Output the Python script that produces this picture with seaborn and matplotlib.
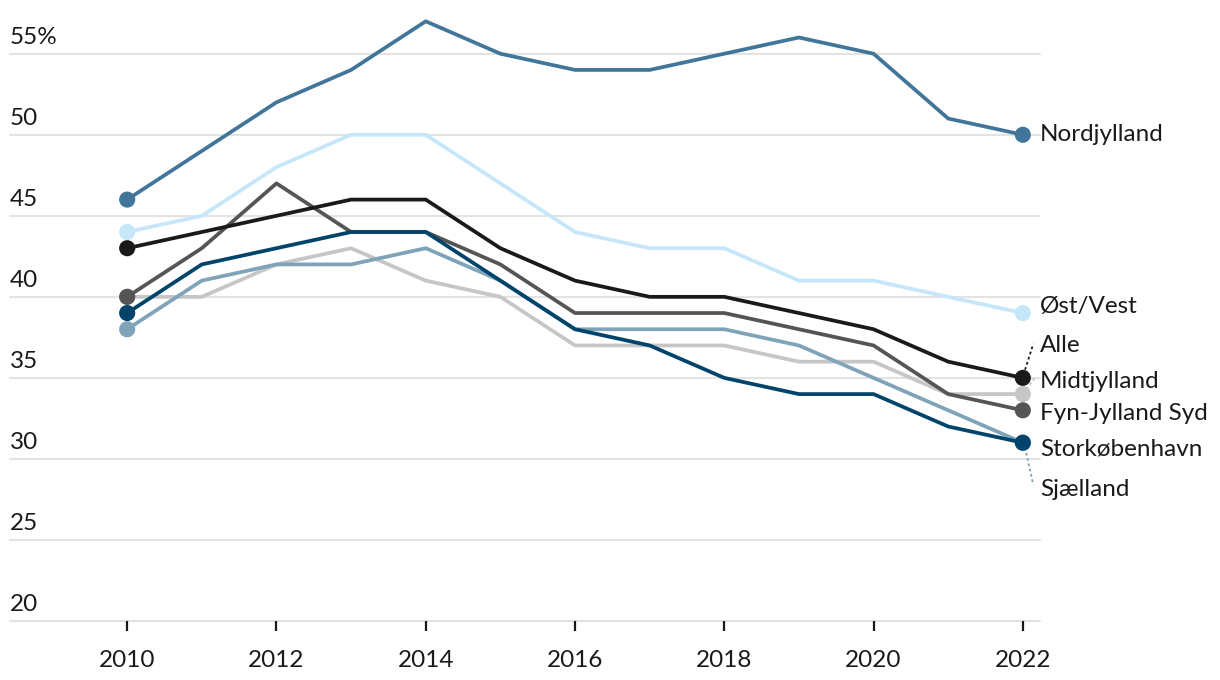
import matplotlib
matplotlib.use("Agg")
import matplotlib.pyplot as plt
import seaborn as sns
import pandas as pd

# data
years = list(range(2010, 2023))
nordjylland = [46, 49, 52, 54, 57, 55, 54, 54, 55, 56, 55, 51, 50]
oest_vest = [44, 45, 48, 50, 50, 47, 44, 43, 43, 41, 41, 40, 39]
alle = [43, 44, 45, 46, 46, 43, 41, 40, 40, 39, 38, 36, 35]
fyn_jylland_syd = [40, 43, 47, 44, 44, 42, 39, 39, 39, 38, 37, 34, 33]
midtjylland = [40, 40, 42, 43, 41, 40, 37, 37, 37, 36, 36, 34, 34]
storkobenhavn = [39, 42, 43, 44, 44, 41, 38, 37, 35, 34, 34, 32, 31]
sjaelland = [38, 41, 42, 42, 43, 41, 38, 38, 38, 37, 35, 33, 31]

y_ticks = [20, 25, 30, 35, 40, 45, 50, 55]
x_ticks = [2010, 2012, 2014, 2016, 2018, 2020, 2022]

series = {
    "Midtjylland": midtjylland,
    "Øst/Vest": oest_vest,
    "Sjælland": sjaelland,
    "Fyn-Jylland Syd": fyn_jylland_syd,
    "Storkøbenhavn": storkobenhavn,
    "Alle": alle,
    "Nordjylland": nordjylland,
}
colors = {
    "Midtjylland": "#c6c6c6",
    "Øst/Vest": "#c5e7f9",
    "Sjælland": "#7fa3b9",
    "Fyn-Jylland Syd": "#555555",
    "Storkøbenhavn": "#00446b",
    "Alle": "#1a1a1a",
    "Nordjylland": "#41769a",
}
# label y positions (data units) at the right edge, nudged apart
label_y = {
    "Nordjylland": 50.0,
    "Øst/Vest": 39.4,
    "Alle": 37.0,
    "Midtjylland": 34.8,
    "Fyn-Jylland Syd": 32.8,
    "Storkøbenhavn": 30.6,
    "Sjælland": 28.1,
}

rows = []
for name, vals in series.items():
    for yr, v in zip(years, vals):
        rows.append({"year": yr, "value": v, "region": name})
df = pd.DataFrame(rows)
ends = df[df["year"].isin([years[0], years[-1]])]

sns.set_style("white")
plt.rcParams["font.family"] = ["Lato", "DejaVu Sans"]
FS = 17.5

fig = plt.figure(figsize=(12.2, 6.8), dpi=100)
ax = fig.add_axes([10 / 1220, 59 / 680, 1030 / 1220, 607 / 680])

for y in y_ticks:
    ax.axhline(y, color="#e3e3e3", lw=1.5, zorder=0)

for i, name in enumerate(series):
    sub = df[df["region"] == name]
    sns.lineplot(data=sub, x="year", y="value", color=colors[name], lw=2.7,
                 ax=ax, zorder=2 + i, legend=False)
    sns.scatterplot(data=ends[ends["region"] == name], x="year", y="value",
                    color=colors[name], s=135, edgecolor="none", ax=ax,
                    zorder=2 + i, legend=False)

# right-side labels
x_last = years[-1]
for name, ly in label_y.items():
    ax.text(x_last + 0.23, ly, name, fontsize=FS, color="#1a1a1a",
            va="center", ha="left")

# dotted leader lines for nudged labels
ax.plot([x_last + 0.03, x_last + 0.14], [alle[-1] + 0.5, 37.1],
        color="#1a1a1a", lw=1.3, ls=(0, (1.5, 1.5)), zorder=1)
ax.plot([x_last + 0.05, x_last + 0.16], [midtjylland[-1] + 0.3, 35.0],
        color="#c6c6c6", lw=1.3, ls=(0, (1.5, 1.5)), zorder=1)
ax.plot([x_last + 0.03, x_last + 0.14], [sjaelland[-1] - 0.3, 28.4],
        color="#7fa3b9", lw=1.3, ls=(0, (1.5, 1.5)), zorder=1)

# y labels sit above the gridlines
for y in y_ticks:
    lab = f"{y}%" if y == 55 else str(y)
    ax.text(2010 - 1.57, y + 0.6, lab, fontsize=FS, color="#1a1a1a",
            ha="left", va="baseline")

ax.set_xlim(2010 - 1.57, 2022.23)
ax.set_ylim(20, 57.45)
ax.set_xticks(x_ticks)
ax.set_xticklabels([str(x) for x in x_ticks], fontsize=FS, color="#1a1a1a")
ax.set_yticks([])
ax.tick_params(axis="x", length=7, width=1.6, color="#1a1a1a", pad=14,
               bottom=True)
ax.set_xlabel("")
ax.set_ylabel("")
for s in ax.spines.values():
    s.set_visible(False)
for child in ax.get_children():
    try:
        child.set_clip_on(False)
    except Exception:
        pass

fig.savefig("out.png", dpi=100)
